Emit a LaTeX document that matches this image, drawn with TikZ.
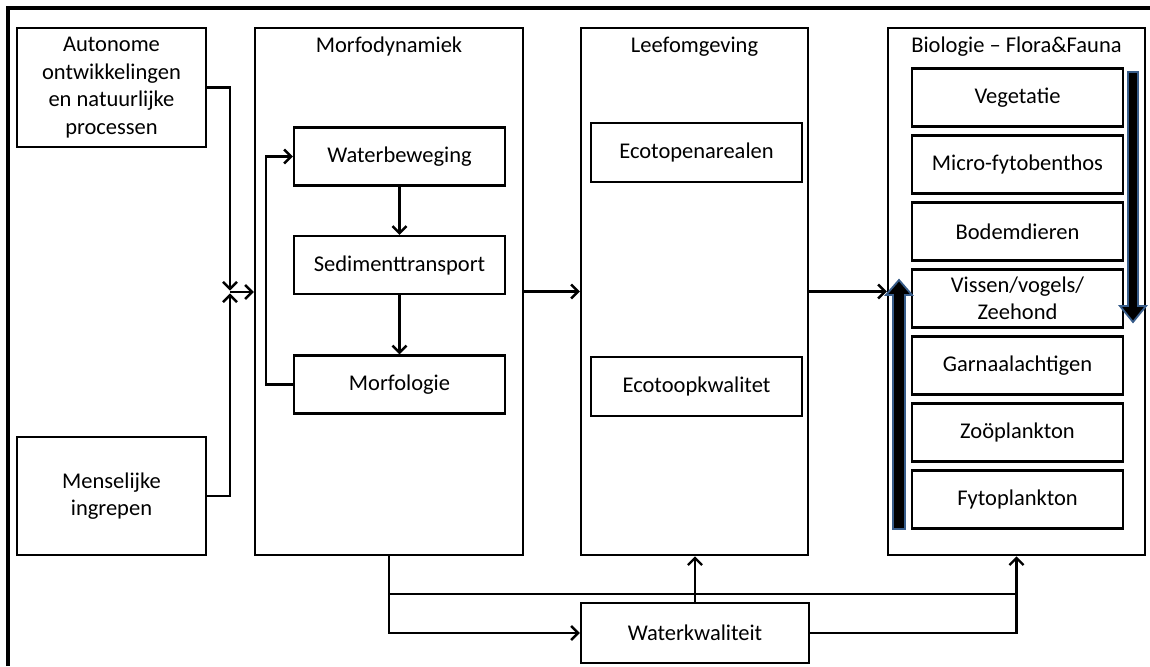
\documentclass[tikz,border=0pt]{standalone}
\usepackage{fontspec}
\setmainfont{Carlito}
\usepackage{tikz}
\usetikzlibrary{positioning,arrows.meta}
\definecolor{arrowblue}{RGB}{56,93,138}

\begin{document}
\begin{tikzpicture}[
	x=0.025cm, y=-0.025cm,
	>={Straight Barb[length=5pt,width=10pt]},
	font=\fontsize{16}{19.5}\selectfont,
	blok/.style={draw, line width=1.7pt, align=center, inner sep=0pt, minimum height=1.45cm},
	groep/.style={draw, line width=1.7pt, inner sep=0pt, minimum width=#1, minimum height=13.175cm},
	titel/.style={anchor=north, inner sep=7pt},
	pijl/.style={->, line width=1.7pt},
	dikpijl/.style={fill=black, draw=arrowblue, line width=1.3pt, line join=miter}]
	\useasboundingbox (0,0) rectangle (1150,666);
	\draw[line width=2.4pt] (8,666) -- (8,8) -- (1150,8);

	\node[blok, minimum width=4.725cm, minimum height=2.975cm] (auto) at (111.5,87.5) {Autonome\\ontwikkelingen\\en natuurlijke\\processen};
	\node[blok, minimum width=4.725cm, minimum height=2.95cm] (mens) at (111.5,496) {Menselijke\\ingrepen};

	\node[groep=6.7cm, label={[titel]north:Morfodynamiek}] (morfo) at (389,291.5) {};
	\node[blok, minimum width=5.275cm] (waterb) at (399.5,156.5) {Waterbeweging};
	\node[blok, minimum width=5.275cm] (sedi) at (399.5,265) {Sedimenttransport};
	\node[blok, minimum width=5.275cm] (morfol) at (399.5,384.5) {Morfologie};

	\node[groep=5.675cm, label={[titel]north:Leefomgeving}] (leef) at (694.5,291.5) {};
	\node[blok, minimum width=5.275cm, minimum height=1.475cm] (areaal) at (696.5,152.5) {Ecotopenarealen};
	\node[blok, minimum width=5.275cm, minimum height=1.475cm] (kwal) at (696.5,386.5) {Ecotoopkwalitet};

	\node[groep=6.425cm, label={[titel]north:Biologie -- Flora\&Fauna}] (bio) at (1016.5,291.5) {};
	\foreach \naam/\tekst [count=\i from 0] in {veg/Vegetatie, micro/Micro-fytobenthos, bodem/Bodemdieren, vis/{Vissen/vogels/\\Zeehond}, garn/Garnaalachtigen, zoo/Zoöplankton, fyto/Fytoplankton}
		\node[blok, minimum width=5.275cm] (\naam) at (1017.5,97.5+67*\i) {\tekst};

	\node[blok, minimum width=5.7cm, minimum height=1.5cm] (wk) at (695,633) {Waterkwaliteit};

	% voedselketen
	\draw[dikpijl] (1128,72) -- (1138,72) -- (1138,306) -- (1146,306) -- (1133,322) -- (1120,306) -- (1128,306) -- cycle;
	\draw[dikpijl] (893,529) -- (905,529) -- (905,295) -- (912,295) -- (899,280) -- (886,295) -- (893,295) -- cycle;

	\coordinate (samen) at (230,292);
	\draw[pijl, shorten >=1pt] (auto.east) -| (samen);
	\draw[pijl, shorten >=1pt] (mens.east) -| (samen);
	\draw[pijl] (samen) -- (samen -| morfo.west);

	\draw[pijl] (morfol.west) -- ++(-27,0) |- (waterb.west);
	\draw[pijl] (waterb) -- (sedi);
	\draw[pijl] (sedi) -- (morfol);
	\draw[pijl] (morfo) -- (leef);
	\draw[pijl] (leef) -- (bio);

	\coordinate (split) at (389,594);
	\draw[pijl] (morfo.south) |- (wk.west);
	\draw[pijl] (split) -| (bio.south);
	\draw[line width=1.7pt] (wk.east) -| (split -| bio.south);
	\draw[pijl] (wk.north) -- (wk.north |- leef.south);
\end{tikzpicture}
\end{document}
